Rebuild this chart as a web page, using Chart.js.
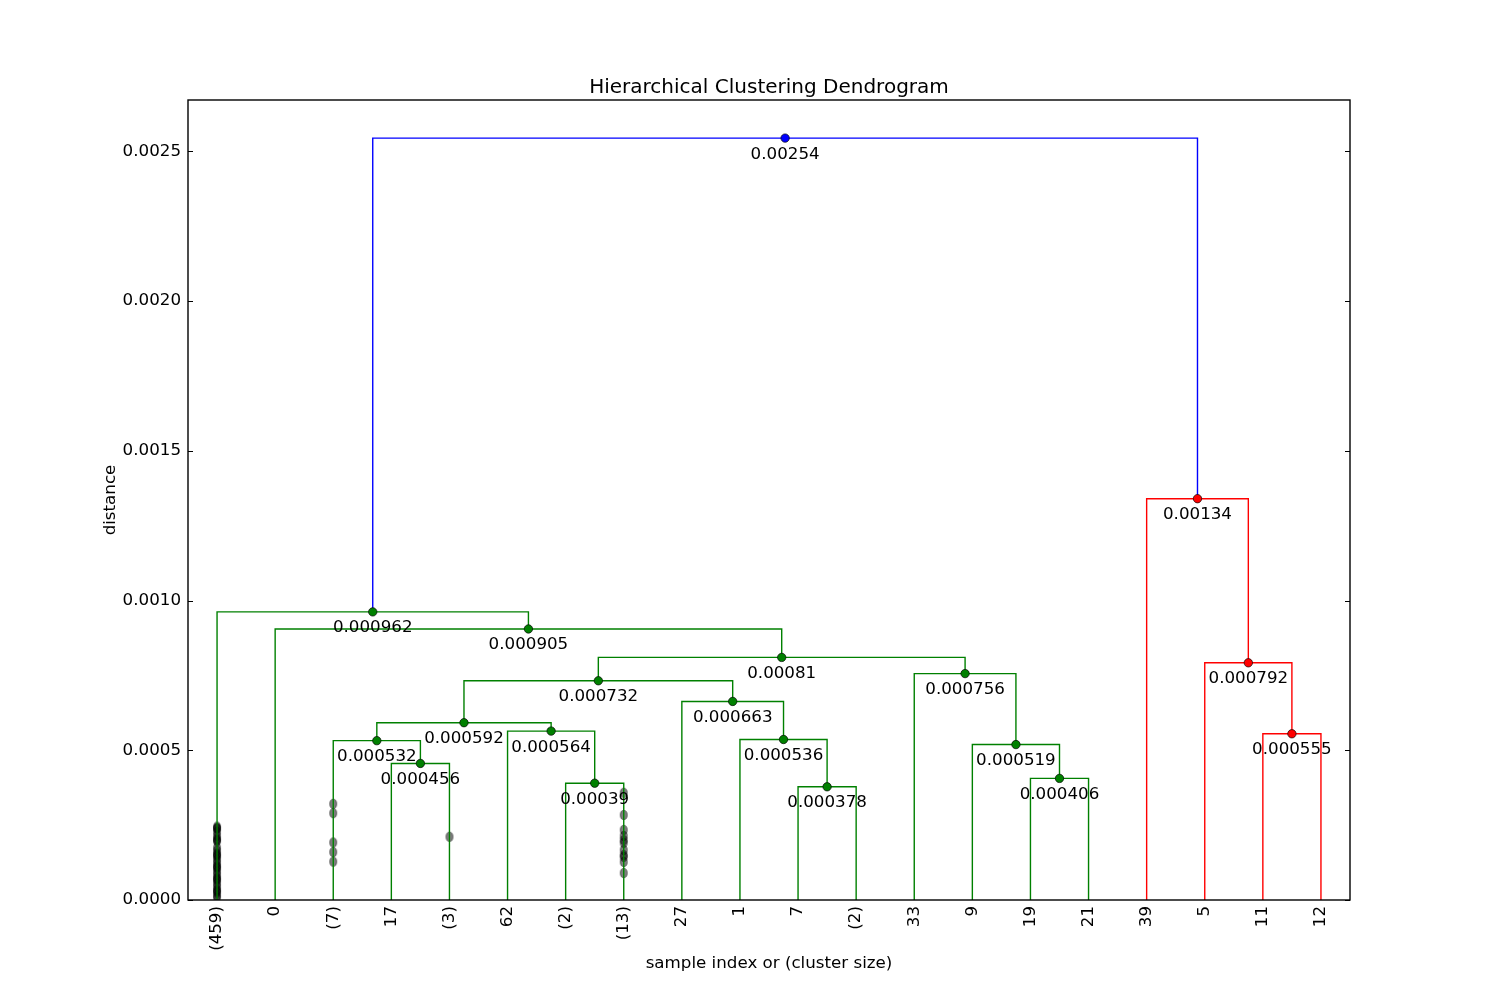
<!DOCTYPE html>
<html><head><meta charset="utf-8">
<script src="https://cdn.jsdelivr.net/npm/chart.js@4.4.1/dist/chart.umd.min.js"></script>
<style>html,body{margin:0;padding:0;background:#fff}#wrap{width:1500px;height:1000px}</style>
</head><body><div id="wrap"><canvas id="c" width="1500" height="1000"></canvas></div>
<script>
// ---- data ----
const leafLabels = ['(459)','0','(7)','17','(3)','62','(2)','(13)','27','1','7','(2)','33','9','19','21','39','5','11','12'];
// merges numbered 20.. (ids < 20 are leaves, in display order)
const mergeLeft  = [3, 2, 6, 5, 21, 10, 9, 8, 24, 14, 13, 12, 28, 1, 0, 18, 17, 16, 34];
const mergeRight = [4, 20, 7, 22, 23, 11, 25, 26, 27, 15, 29, 30, 31, 32, 33, 19, 35, 36, 37];
const mergeHeights = [0.000456, 0.000532, 0.000390, 0.000564, 0.000592, 0.000378, 0.000536, 0.000663, 0.000732,
                      0.000406, 0.000519, 0.000756, 0.000810, 0.000905, 0.000962, 0.000555, 0.000792, 0.001340, 0.002544];
const mergeGroup = ['a','a','a','a','a','a','a','a','a','a','a','a','a','a','a','b','b','b','root'];
const yTicks = [0, 0.0005, 0.0010, 0.0015, 0.0020, 0.0025];
// contraction marks on truncated leaves
const marks459 = [0.000245,0.000238,0.000228,0.000215,0.000205,0.000196,0.000175,0.000165,0.000155,0.000145,0.000135,
                  0.000125,0.000115,0.000105,0.000095,0.000085,0.000075,0.000065,0.000055,0.000045,0.000035,0.000025,0.000015,0.000008,
                  0.000240,0.000200,0.000150,0.000110,0.000070,0.000030];
const marks7 = [0.000321, 0.000290, 0.000192, 0.000160, 0.000128];
const marks3 = [0.000211];
const marks13 = [0.000358, 0.000284, 0.000234, 0.000214, 0.000200, 0.000191, 0.000167, 0.000150, 0.000144, 0.000127, 0.000090];

// ---- build ----
const groupColor = {a:'#008000', b:'#ff0000', root:'#0000ff'};
const nLeaf = leafLabels.length;
const leafX = i => 5 + 10 * i;
const mX = [], mH = [];
function nx(id){ return id < nLeaf ? leafX(id) : mX[id - nLeaf]; }
function nh(id){ return id < nLeaf ? 0 : mH[id - nLeaf]; }
mergeHeights.forEach((h, k) => {
  mX[k] = (nx(mergeLeft[k]) + nx(mergeRight[k])) / 2;
  mH[k] = h;
});

const datasets = [];
mergeHeights.forEach((h, k) => {
  const a = mergeLeft[k], b = mergeRight[k];
  datasets.push({
    data: [{x:nx(a), y:nh(a)}, {x:nx(a), y:h}, {x:nx(b), y:h}, {x:nx(b), y:nh(b)}],
    showLine: true, borderColor: groupColor[mergeGroup[k]], borderWidth: 1.4,
    pointRadius: 0, fill: false, order: 5
  });
});
['a','b','root'].forEach(g => {
  const pts = [];
  mergeHeights.forEach((h, k) => { if (mergeGroup[k] === g) pts.push({x: mX[k], y: h}); });
  datasets.push({data: pts, showLine: false, pointRadius: 4.2, pointBackgroundColor: groupColor[g],
    pointBorderColor: 'rgba(0,0,0,0.85)', pointBorderWidth: 0.8, order: 1});
});
// ellipse marker
const ell = document.createElement('canvas'); ell.width = 10; ell.height = 12;
(function(){ const c = ell.getContext('2d'); c.beginPath(); c.ellipse(5, 6, 3.4, 4.6, 0, 0, Math.PI*2);
  c.fillStyle = 'rgba(0,0,0,0.5)'; c.fill(); c.lineWidth = 1; c.strokeStyle = 'rgba(0,0,0,0.5)'; c.stroke(); })();
const markPts = [];
[[0, marks459], [2, marks7], [4, marks3], [7, marks13]].forEach(([li, arr]) => arr.forEach(v => markPts.push({x: leafX(li), y: v})));
datasets.push({data: markPts, showLine: false, pointStyle: ell, pointRadius: 4, order: 10});

const FONT = 'DejaVu Sans';
const FS = 16.7;
const fmt = v => parseFloat(v.toPrecision(3)).toString();

const deco = {
  id: 'deco',
  afterDatasetsDraw(chart) {
    const ctx = chart.ctx, xs = chart.scales.x, ys = chart.scales.y;
    ctx.save();
    ctx.fillStyle = '#000'; ctx.font = FS + 'px "' + FONT + '"';
    ctx.textAlign = 'center'; ctx.textBaseline = 'alphabetic';
    mergeHeights.forEach((h, k) => {
      ctx.fillText(fmt(h), xs.getPixelForValue(mX[k]), ys.getPixelForValue(h) + 20.5);
    });
    ctx.restore();
  },
  afterDraw(chart) {
    const ctx = chart.ctx, a = chart.chartArea, ys = chart.scales.y;
    ctx.save();
    ctx.strokeStyle = '#000'; ctx.lineWidth = 1.4;
    ctx.strokeRect(a.left, a.top, a.right - a.left, a.bottom - a.top);
    ctx.lineWidth = 1;
    yTicks.forEach(v => {
      const y = Math.round(ys.getPixelForValue(v)) + 0.5;
      ctx.beginPath(); ctx.moveTo(a.left, y); ctx.lineTo(a.left + 5, y);
      ctx.moveTo(a.right, y); ctx.lineTo(a.right - 5, y); ctx.stroke();
    });
    ctx.fillStyle = '#000';
    ctx.textAlign = 'center'; ctx.textBaseline = 'alphabetic';
    ctx.font = '20px "' + FONT + '"';
    ctx.fillText('Hierarchical Clustering Dendrogram', (a.left + a.right) / 2, 93);
    ctx.font = FS + 'px "' + FONT + '"';
    ctx.fillText('sample index or (cluster size)', (a.left + a.right) / 2, 968);
    ctx.translate(115, (a.top + a.bottom) / 2); ctx.rotate(-Math.PI / 2);
    ctx.fillText('distance', 0, 0);
    ctx.restore();
  }
};

new Chart(document.getElementById('c'), {
  type: 'scatter',
  data: { datasets },
  options: {
    responsive: false, animation: false, devicePixelRatio: 1,
    layout: { padding: { left: 0, right: 150, top: 100, bottom: 0 } },
    plugins: { legend: { display: false }, tooltip: { enabled: false }, title: { display: false } },
    scales: {
      x: {
        type: 'linear', min: 0, max: nLeaf * 10,
        afterBuildTicks: s => { s.ticks = leafLabels.map((_, i) => ({ value: leafX(i) })); },
        afterFit: s => { s.height = 100; },
        grid: { display: false, drawTicks: false }, border: { display: false },
        ticks: { autoSkip: false, minRotation: 90, maxRotation: 90, padding: 6, color: '#000',
          font: { family: FONT, size: FS }, callback: (v, i) => leafLabels[i] }
      },
      y: {
        type: 'linear', min: 0, max: Math.max(...mergeHeights) * 1.05,
        afterBuildTicks: s => { s.ticks = yTicks.map(v => ({ value: v })); },
        afterFit: s => { s.width = 188; },
        grid: { display: false, drawTicks: false }, border: { display: false },
        ticks: { padding: 7, color: '#000', font: { family: FONT, size: FS }, callback: v => v.toFixed(4) }
      }
    }
  },
  plugins: [deco]
});
</script>
</body></html>
